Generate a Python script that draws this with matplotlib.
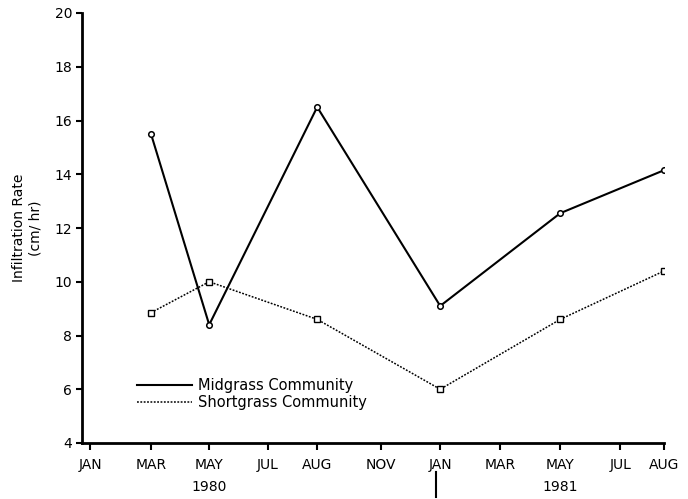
import numpy as np
import matplotlib
matplotlib.use("Agg")
import matplotlib.pyplot as plt

# axis months (the original axis is not linear in time)
tick_labels = ["JAN", "MAR", "MAY", "JUL", "AUG", "NOV", "JAN", "MAR", "MAY", "JUL", "AUG"]
tick_pos = [0, 2.03, 3.97, 5.93, 7.57, 9.7, 11.67, 13.67, 15.67, 17.67, 19.13]

# sampling dates as index into tick_labels
sample_idx = [1, 2, 4, 6, 8, 10]
midgrass = [15.5, 8.4, 16.5, 9.1, 12.55, 14.15]
shortgrass = [8.85, 10.0, 8.6, 6.0, 8.6, 10.4]

years = ["1980", "1981"]
year_idx = [2, 8]

plt.rcParams['font.family'] = ['DejaVu Sans']

fig = plt.figure(figsize=(6.88, 4.99), dpi=100)
ax = fig.add_axes([82/688, 1-443/499, (664-82)/688, (443-13)/499])

x = np.array([tick_pos[i] for i in sample_idx])
ax.plot(x, midgrass, '-', color='black', lw=1.5, marker='o', ms=4,
        mfc='white', mec='black', mew=1.1, label='Midgrass Community')
ax.plot(x, shortgrass, color='black', lw=1.1, ls=(0, (1.2, 1.0)), marker='s', ms=4,
        mfc='white', mec='black', mew=1.0, label='Shortgrass Community')

ax.set_xlim(-0.27, 19.13)
ax.set_ylim(4, 20)
ax.set_yticks(np.arange(4, 21, 2))
ax.set_xticks(tick_pos)
ax.set_xticklabels(tick_labels)

for s in ['top', 'right']:
    ax.spines[s].set_visible(False)
for s in ['left', 'bottom']:
    ax.spines[s].set_linewidth(2)
ax.tick_params(axis='x', direction='out', length=5, width=1.5, labelsize=10, pad=6)
ax.tick_params(axis='y', direction='out', length=4, width=1.5, labelsize=10, pad=3)

ax.set_ylabel('Infiltration Rate\n(cm/ hr)', fontsize=10, labelpad=9, linespacing=1.2)

for yr, i in zip(years, year_idx):
    ax.annotate(yr, xy=(tick_pos[i], 0), xycoords=('data', 'axes fraction'),
                xytext=(0, -32), textcoords='offset points', ha='center', va='center', fontsize=10)

# marker line under the January 1981 tick
ax.plot([tick_pos[6] - 0.13] * 2, [-29/430, -54/430], color='black', lw=1.5,
        transform=ax.get_xaxis_transform(), clip_on=False)

leg = ax.legend(loc='lower left', bbox_to_anchor=(137/688, 1-410/499), bbox_transform=fig.transFigure,
                frameon=False, handlelength=3.8, handletextpad=0.4, labelspacing=0.15,
                borderpad=0, borderaxespad=0, fontsize=10.5, markerscale=0)
for h in leg.legend_handles:
    h.set_marker('')

fig.savefig('out.png', dpi=100)
